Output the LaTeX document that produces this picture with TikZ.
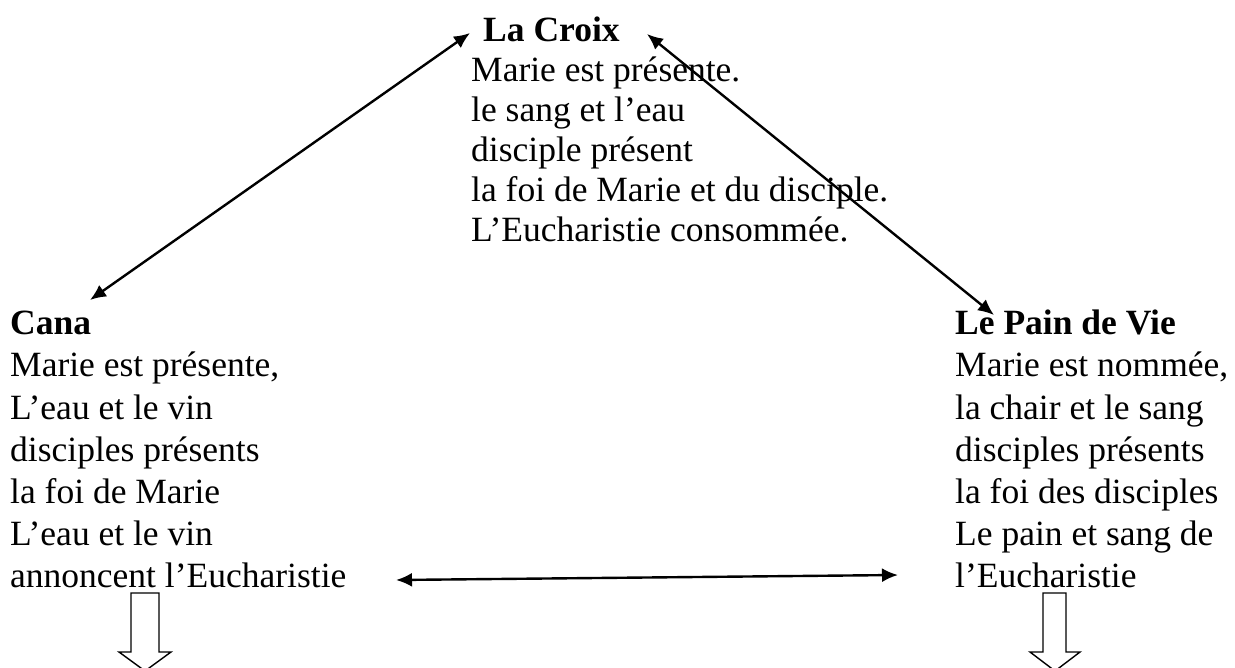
\documentclass[tikz,border=0pt]{standalone}
\usepackage{fontspec}
\setmainfont{Liberation Serif}
\usetikzlibrary{arrows.meta}
\tikzset{
  txt/.style={anchor=base west, inner sep=0pt, font=\fontsize{35.5}{42}\selectfont},
  ttl/.style={txt, font=\fontsize{35.5}{42}\selectfont\bfseries},
  link/.style={line width=2.4pt, {Latex[length=16pt,width=14pt]}-{Latex[length=16pt,width=14pt]}},
  hollow/.style={draw=black, fill=white, line width=1.4pt, line join=miter}
}
\begin{document}
\begin{tikzpicture}[x=1pt,y=-1pt]
\useasboundingbox (0,0) rectangle (1235,668);
\clip (0,0) rectangle (1235,668);
% La Croix
\node[ttl] (croix) at (483,42) {La Croix};
\foreach \t [count=\i] in {{Marie est présente.},{le sang et l’eau},{disciple présent},{la foi de Marie et du disciple.},{L’Eucharistie consommée.}}
  \node[txt] (cr\i) at (471,{42+40*\i}) {\t};
% Cana
\node[ttl] (cana) at (10,335) {Cana};
\foreach \t [count=\i] in {{Marie est présente,},{L’eau et le vin},{disciples présents},{la foi de Marie},{L’eau et le vin},{annoncent l’Eucharistie}}
  \node[txt] (ca\i) at (10,{335+42*\i}) {\t};
% Le Pain de Vie
\node[ttl] (pain) at (955,335) {Le Pain de Vie};
\foreach \t [count=\i] in {{Marie est nommée,},{la chair et le sang},{disciples présents},{la foi des disciples},{Le pain et sang de},{l’Eucharistie}}
  \node[txt] (pa\i) at (955,{335+42*\i}) {\t};
% arrow end points
\coordinate (aCanaTop) at (90,300);
\coordinate (aCroixL) at (470,33);
\coordinate (aCroixR) at (647,34);
\coordinate (aPainTop) at (994,315);
\coordinate (aCanaR) at (396,580);
\coordinate (aPainL) at (898,575);
\draw[link] (aCanaTop) -- (aCroixL);
\draw[link] (aCroixR) -- (aPainTop);
\draw[link] (aCanaR) -- (aPainL);
% hollow down arrows
\draw[hollow] (131,593) -- (159,593) -- (159,652) -- (171,652) -- (145,671) -- (119,652) -- (131,652) -- cycle;
\draw[hollow] (1043,593) -- (1066,593) -- (1066,652) -- (1080,652) -- (1055,671) -- (1030,652) -- (1043,652) -- cycle;
\end{tikzpicture}
\end{document}
